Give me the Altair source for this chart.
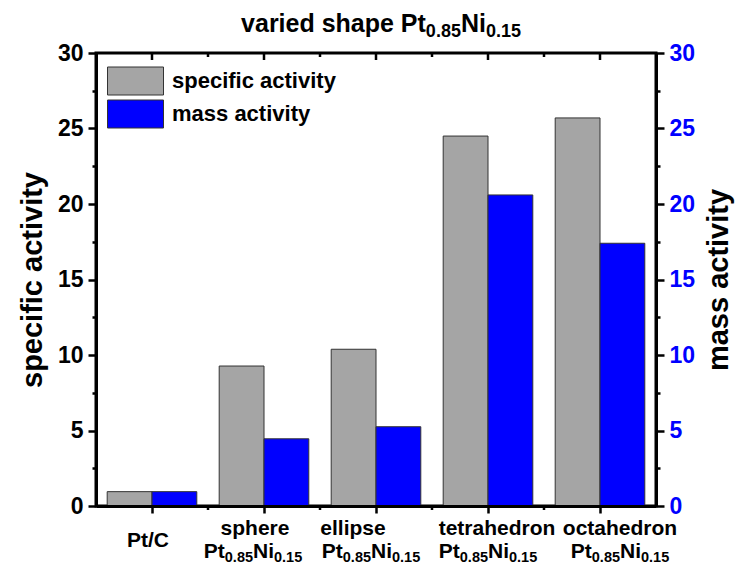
import altair as alt
import pandas as pd

# ---------------- data ----------------
categories = ["Pt/C", "sphere", "ellipse", "tetrahedron", "octahedron"]
specific_activity = [0.95, 9.27, 10.38, 24.5, 25.7]
mass_activity = [0.95, 4.45, 5.25, 20.6, 17.4]
series = ["specific activity", "mass activity"]
colors = ["#A5A5A5", "#0000FF"]
y_ticks = [0, 2.5, 5, 7.5, 10, 12.5, 15, 17.5, 20, 22.5, 25, 27.5, 30]
formula_segments = [("Pt", False), ("0.85", True), ("Ni", False), ("0.15", True)]
title_segments = [("varied shape Pt", False), ("0.85", True), ("Ni", False), ("0.15", True)]

# hand placement of the category labels (pixels relative to the tick), as in the original
line1_shift = [-4, -9, -23, 9, 20]
line2_shift = [0, -11, -5, 0, 20]

rows = []
for c, s, m in zip(categories, specific_activity, mass_activity):
    rows.append({"cat": c, "series": series[0], "value": s})
    rows.append({"cat": c, "series": series[1], "value": m})
df = pd.DataFrame(rows)
cat_df = pd.DataFrame({"cat": categories})
shape_df = pd.DataFrame({"cat": categories[1:]})
single_df = pd.DataFrame({"cat": categories[:1]})

# ---------------- layout ----------------
PW, PH = 560, 453
FONT = "Liberation Sans"
TICK = "black"

W = {" ": .278, "a": .556, "c": .556, "d": .611, "e": .556, "h": .611, "i": .278,
     "p": .611, "r": .389, "s": .556, "v": .556, "t": .333, "P": .667, "N": .722,
     ".": .278}
for d in "0123456789":
    W[d] = .556


def tw(s, size):
    return sum(W.get(ch, .6) for ch in s) * size


def seg_offsets(segs, big, small):
    widths = [tw(t, small if sub else big) for t, sub in segs]
    total = sum(widths)
    out, x = [], -total / 2
    for (t, sub), w in zip(segs, widths):
        out.append((t, sub, x))
        x += w
    return out


xscale = alt.Scale(domain=categories, paddingInner=0, paddingOuter=0)
xaxis = alt.Axis(labels=False, title=None, ticks=True, tickSize=7, tickWidth=2.5,
                 tickColor=TICK, domain=True, domainWidth=3, domainColor="black",
                 zindex=1, grid=False)
xoff = alt.XOffset("series:N", scale=alt.Scale(domain=series, paddingOuter=0.25, paddingInner=0))
color = alt.Color("series:N", scale=alt.Scale(domain=series, range=colors),
                  legend=alt.Legend(title=None, orient="none", legendX=11, legendY=13.5,
                                    symbolType="M-2,-1L2,-1L2,1L-2,1Z", symbolSize=784,
                                    symbolOffset=14, labelOffset=22, labelFontSize=22,
                                    labelFont=FONT, labelFontWeight="bold", labelColor="black",
                                    rowPadding=0, padding=0, symbolStrokeColor="#333333",
                                    symbolStrokeWidth=1, labelLimit=400))

minor_size = {"condition": {"test": "datum.value % 5 === 0", "value": 8}, "value": 4}


def yaxis(orient, title, label_color):
    kw = dict(orient=orient, title=title, values=y_ticks,
              labelExpr="datum.value % 5 === 0 ? '' + datum.value : ''",
              tickSize=minor_size, tickWidth=2.5, tickColor=TICK,
              domain=True, domainWidth=3, domainColor="black", grid=False, zindex=1,
              labelFont=FONT, labelFontSize=23, labelFontWeight="bold", labelColor=label_color,
              labelPadding=5, titleFont=FONT, titleFontSize=29, titleFontWeight="bold",
              titleColor="black", titlePadding=10)
    if orient == "right":
        kw["titleAngle"] = 270
        kw["titleBaseline"] = "top"
    return alt.Axis(**kw)


yscale = alt.Scale(domain=[0, 30], nice=False, zero=True)

gray = alt.Chart(df).transform_filter(alt.datum.series == series[0]).mark_bar(
    stroke="#333333", strokeWidth=1).encode(
    x=alt.X("cat:N", sort=categories, scale=xscale, axis=xaxis),
    xOffset=xoff,
    y=alt.Y("value:Q", scale=yscale, axis=yaxis("left", "specific activity", "black")),
    color=color)

blue = alt.Chart(df).transform_filter(alt.datum.series == series[1]).mark_bar(
    stroke="#333333", strokeWidth=1).encode(
    x=alt.X("cat:N", sort=categories, scale=xscale),
    xOffset=xoff,
    y=alt.Y("value:Q", scale=yscale, axis=yaxis("right", "mass activity", "#0000FF")),
    color=color)

layers = [gray, blue]

# minor ticks at the category boundaries (bottom) and mirrored ticks along the top frame
layers.append(alt.Chart(shape_df).mark_rule(color=TICK, strokeWidth=2.5).encode(
    x=alt.X("cat:N", sort=categories, scale=xscale, bandPosition=0),
    y=alt.value(PH), y2=alt.value(PH + 4)))
layers.append(alt.Chart(shape_df).mark_rule(color=TICK, strokeWidth=2.5).encode(
    x=alt.X("cat:N", sort=categories, scale=xscale, bandPosition=0),
    y=alt.value(0), y2=alt.value(4)))
layers.append(alt.Chart(cat_df).mark_rule(color=TICK, strokeWidth=2.5).encode(
    x=alt.X("cat:N", sort=categories, scale=xscale),
    y=alt.value(0), y2=alt.value(7)))

# x labels, placed per category
F1, F2 = 21, 14.5
for i, c in enumerate(categories):
    one = pd.DataFrame({"cat": [c]})
    if i == 0:
        layers.append(alt.Chart(one).mark_text(font=FONT, fontSize=F1, fontWeight="bold",
                                               color="black", baseline="middle",
                                               dx=line1_shift[i]).encode(
            x=alt.X("cat:N", sort=categories, scale=xscale), y=alt.value(PH + 35), text="cat:N"))
        continue
    layers.append(alt.Chart(one).mark_text(font=FONT, fontSize=F1, fontWeight="bold",
                                           color="black", baseline="middle",
                                           dx=line1_shift[i]).encode(
        x=alt.X("cat:N", sort=categories, scale=xscale), y=alt.value(PH + 23), text="cat:N"))
    for t, sub, dx in seg_offsets(formula_segments, F1, F2):
        layers.append(alt.Chart(one).mark_text(
            font=FONT, fontSize=F2 if sub else F1, fontWeight="bold", color="black",
            align="left", baseline="alphabetic", dx=dx + line2_shift[i]).encode(
            x=alt.X("cat:N", sort=categories, scale=xscale),
            y=alt.value(PH + (56 if sub else 52)), text=alt.value(t)))

# title
for t, sub, dx in seg_offsets(title_segments, 25, 18):
    layers.append(alt.Chart(single_df).mark_text(
        font=FONT, fontSize=18 if sub else 25, fontWeight="bold", color="black",
        align="left", baseline="alphabetic").encode(
        x=alt.value(PW / 2 + 5 + dx), y=alt.value(-21 if not sub else -16), text=alt.value(t)))

chart = alt.layer(*layers).resolve_scale(y="independent").properties(
    width=PW, height=PH,
    padding={"left": 96, "top": 53, "right": 82, "bottom": 62},
    autosize=alt.AutoSizeParams(type="none"),
    background="white",
).configure_view(stroke="black", strokeWidth=3)

chart.save("out.html", embed_options={"renderer": "svg", "actions": False})
